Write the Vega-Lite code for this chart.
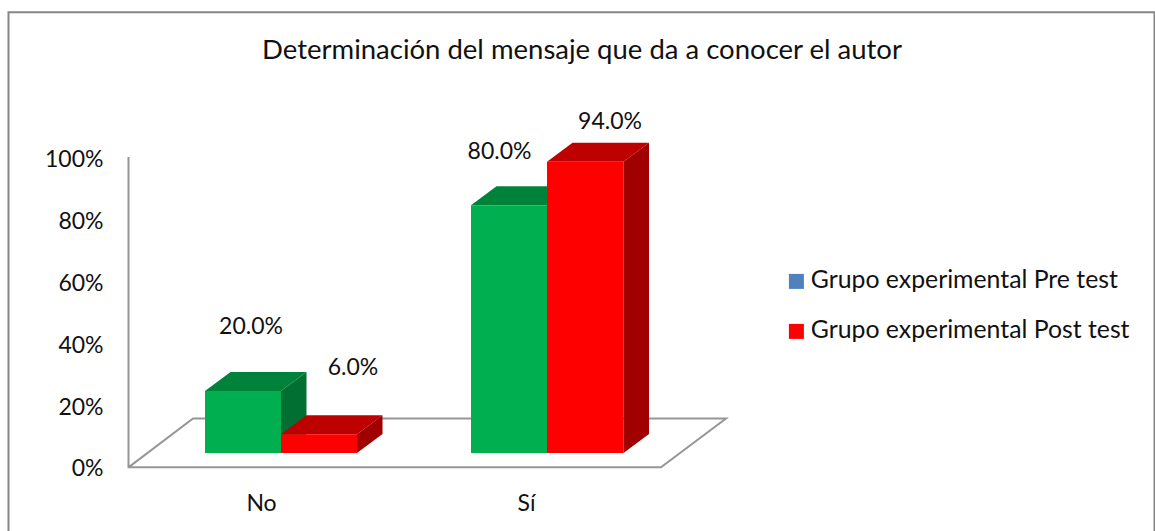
{
"$schema":"https://vega.github.io/schema/vega-lite/v6.json",
"width":1155,"height":531,"padding":0,"autosize":{"type":"none"},"background":"white",
"title":{"text":"Determinación  del mensaje que da a conocer el autor","font":"Lato","fontSize":27.5,"fontWeight":"normal","color":"#111111","anchor":"middle","dx":4.5,"offset":-86,"baseline":"alphabetic"},
"config":{"view":{"stroke":null},"font":"Lato"},
"datasets":{
"frame":[{"s":1,"x":8.5,"y":-20.6},{"s":2,"x":8.5,"y":147.2},{"s":3,"x":1154.5,"y":147.2},{"s":4,"x":1154.5,"y":-20.6}],
"floor":[{"s":1,"x":128.5,"y":100.4},{"s":2,"x":128.5,"y":0},{"s":3,"x":661,"y":0},{"s":4,"x":726,"y":15.8},{"s":5,"x":193,"y":15.8},{"s":6,"x":128.5,"y":0}],
"bars":[
{"cat":"No","serie":"Grupo experimental Pre test","value":20,"label":"20.0%","x":205,"x2":281,"y":4.6,"y2":24.7,"lx":251,"ly":45.4},
{"cat":"No","serie":"Grupo experimental Post test","value":6,"label":"6.0%","x":281,"x2":357,"y":4.6,"y2":10.7,"lx":353,"ly":32.2},
{"cat":"Sí","serie":"Grupo experimental Pre test","value":80,"label":"80.0%","x":471,"x2":547,"y":4.6,"y2":84.8,"lx":499.5,"ly":101.9},
{"cat":"Sí","serie":"Grupo experimental Post test","value":94,"label":"94.0%","x":547,"x2":623.5,"y":4.6,"y2":98.9,"lx":610,"ly":111.7}
],
"sides":[
{"bar":"a","serie":"Grupo experimental Pre test","x":281,"y":4.6,"y2":24.7},
{"bar":"a","serie":"Grupo experimental Pre test","x":306.5,"y":10.75,"y2":30.85},
{"bar":"b","serie":"Grupo experimental Post test","x":357,"y":4.6,"y2":10.7},
{"bar":"b","serie":"Grupo experimental Post test","x":382.5,"y":10.75,"y2":16.85},
{"bar":"c","serie":"Grupo experimental Pre test","x":547,"y":4.6,"y2":84.8},
{"bar":"c","serie":"Grupo experimental Pre test","x":572.5,"y":10.75,"y2":90.95},
{"bar":"d","serie":"Grupo experimental Post test","x":623.5,"y":4.6,"y2":98.9},
{"bar":"d","serie":"Grupo experimental Post test","x":649,"y":10.75,"y2":105.05}
],
"tops":[
{"bar":"a","serie":"Grupo experimental Pre test","y":24.7,"x":205,"x2":281},
{"bar":"a","serie":"Grupo experimental Pre test","y":30.85,"x":230.5,"x2":306.5},
{"bar":"b","serie":"Grupo experimental Post test","y":10.7,"x":281,"x2":357},
{"bar":"b","serie":"Grupo experimental Post test","y":16.85,"x":306.5,"x2":382.5},
{"bar":"c","serie":"Grupo experimental Pre test","y":84.8,"x":471,"x2":547},
{"bar":"c","serie":"Grupo experimental Pre test","y":90.95,"x":496.5,"x2":572.5},
{"bar":"d","serie":"Grupo experimental Post test","y":98.9,"x":547,"x2":623.5},
{"bar":"d","serie":"Grupo experimental Post test","y":105.05,"x":572.5,"x2":649}
]
},
"encoding":{
"x":{"field":"x","type":"quantitative","scale":{"domain":[0,1155],"nice":false,"zero":false},"axis":{"title":null,"grid":false,"domain":false,"ticks":false,"values":[261,526],"labelExpr":"datum.value==261?'No':'Sí'","labelFont":"Lato","labelFontSize":23,"labelColor":"#111111","offset":-39,"labelPadding":0,"labelBaseline":"top"}},
"y":{"field":"y","type":"quantitative","stack":null,"scale":{"domain":[-20.6,151.2],"nice":false,"zero":false},"axis":{"title":null,"grid":false,"domain":false,"ticks":false,"values":[0,20,40,60,80,100],"labelExpr":"datum.value+'%'","labelFont":"Lato","labelFontSize":23,"labelColor":"#111111","offset":-103,"labelPadding":0,"labelOffset":1.5}}
},
"layer":[
{"data":{"name":"frame"},"mark":{"type":"line","color":"#868686","strokeWidth":2,"clip":false},"encoding":{"order":{"field":"s"}}},
{"data":{"name":"floor"},"mark":{"type":"line","color":"#969696","strokeWidth":2},"encoding":{"order":{"field":"s"}}},
{"data":{"name":"sides"},"mark":{"type":"area"},"encoding":{"y2":{"field":"y2"},"detail":{"field":"bar"},"color":{"field":"serie","scale":{"domain":["Grupo experimental Pre test","Grupo experimental Post test"],"range":["#006F31","#A00000"]},"legend":null}}},
{"data":{"name":"tops"},"mark":{"type":"area","orient":"horizontal"},"encoding":{"x":{"field":"x","type":"quantitative","stack":null},"x2":{"field":"x2"},"detail":{"field":"bar"},"color":{"field":"serie","scale":{"domain":["Grupo experimental Pre test","Grupo experimental Post test"],"range":["#00823A","#BD0000"]},"legend":null}}},
{"data":{"name":"bars"},"mark":{"type":"rect"},"encoding":{"x2":{"field":"x2"},"y2":{"field":"y2"},"color":{"field":"serie","scale":{"domain":["Grupo experimental Pre test","Grupo experimental Post test"],"range":["#00B050","#FF0000"]},"legend":null}}},
{"data":{"name":"bars"},"mark":{"type":"text","font":"Lato","fontSize":23,"color":"#111111","baseline":"middle"},"encoding":{"x":{"field":"lx","type":"quantitative"},"y":{"field":"ly","type":"quantitative"},"text":{"field":"label"}}},
{"data":{"name":"bars"},"mark":{"type":"point","shape":"square","filled":true,"size":0},"encoding":{"color":{"field":"serie","scale":{"domain":["Grupo experimental Pre test","Grupo experimental Post test"],"range":["#4F81BD","#FF0000"]},"legend":{"title":null,"orient":"none","legendX":784,"legendY":269,"symbolType":"square","symbolSize":225,"symbolOpacity":1,"labelFont":"Lato","labelFontSize":24.8,"labelColor":"#111111","labelOffset":2,"rowPadding":24,"symbolStrokeWidth":0,"labelLimit":400}}}}
],
"resolve":{"scale":{"color":"independent"}}
}
